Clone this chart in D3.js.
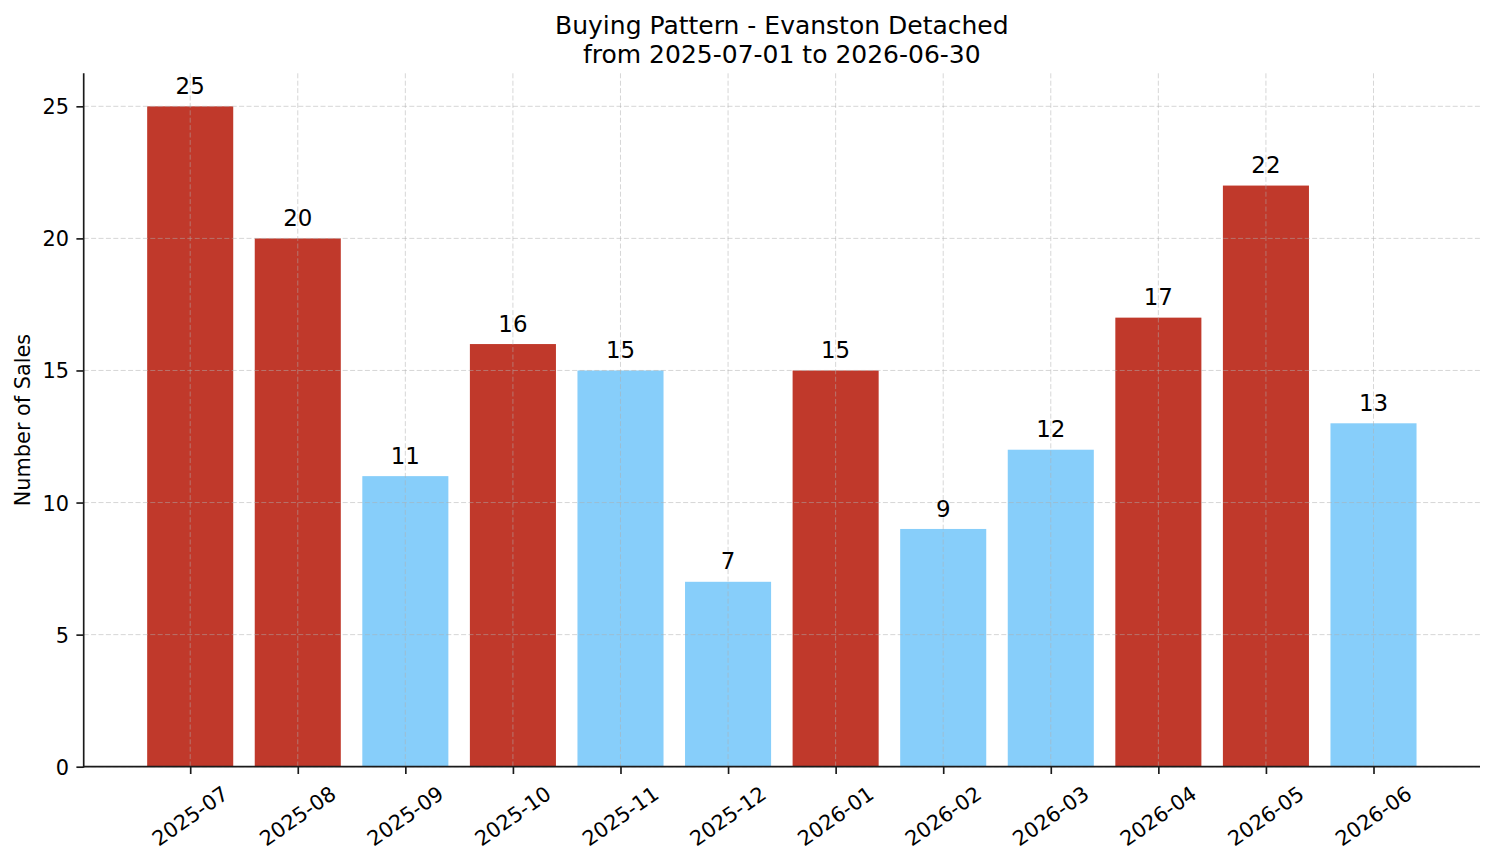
<!DOCTYPE html>
<html>
<head>
<meta charset="utf-8">
<script src="https://cdn.jsdelivr.net/npm/d3@7"></script>
<style>
  html, body { margin: 0; padding: 0; background: #fff; }
  svg { display: block; font-family: "DejaVu Sans", sans-serif; }
</style>
</head>
<body>
<svg id="chart" width="1494" height="863"></svg>
<script>
// ---- data ----
const months = ["2025-07","2025-08","2025-09","2025-10","2025-11","2025-12",
                "2026-01","2026-02","2026-03","2026-04","2026-05","2026-06"];
const sales = [25, 20, 11, 16, 15, 7, 15, 9, 12, 17, 22, 13];
const highlight = [true, true, false, true, false, false, true, false, false, true, true, false];
const yTicks = [0, 5, 10, 15, 20, 25];
const titleLines = ["Buying Pattern - Evanston Detached", "from 2025-07-01 to 2026-06-30"];
const yLabel = "Number of Sales";

// ---- layout ----
const W = 1494, H = 863;
const plot = { left: 83.7, right: 1480, top: 73.3, bottom: 766.7 };
const colHigh = "#c0392b", colLow = "#87cefa";
const axisColor = "#1a1a1a";
const pt = 150 / 72;

const svg = d3.select("#chart");

const x = d3.scaleLinear().domain([-0.99, months.length - 1 + 0.99]).range([plot.left, plot.right]);
const y = d3.scaleLinear().domain([0, 26.25]).range([plot.bottom, plot.top]);
const barW = x(0.8) - x(0);

// bars
svg.append("g").selectAll("rect").data(sales).join("rect")
  .attr("x", (d, i) => x(i) - barW / 2)
  .attr("y", d => y(d))
  .attr("width", barW)
  .attr("height", d => y(0) - y(d))
  .attr("fill", (d, i) => highlight[i] ? colHigh : colLow);

// grid (drawn above bars, like matplotlib default)
const grid = svg.append("g").attr("stroke", "#b0b0b0").attr("stroke-opacity", 0.5)
  .attr("stroke-width", 1).attr("stroke-dasharray", "5,2.4").attr("fill", "none");
grid.selectAll("line.h").data(yTicks).join("line").attr("class", "h")
  .attr("x1", plot.left).attr("x2", plot.right)
  .attr("y1", d => y(d)).attr("y2", d => y(d));
grid.selectAll("line.v").data(months).join("line").attr("class", "v")
  .attr("x1", (d, i) => x(i)).attr("x2", (d, i) => x(i))
  .attr("y1", plot.top).attr("y2", plot.bottom);

// bar value labels
svg.append("g").selectAll("text").data(sales).join("text")
  .attr("x", (d, i) => x(i))
  .attr("y", d => y(d) - 12.4)
  .attr("text-anchor", "middle")
  .attr("font-size", 11 * pt)
  .attr("fill", "#000")
  .text(d => d);

// y axis
const yAxis = d3.axisLeft(y).tickValues(yTicks).tickSize(7.3).tickPadding(7.3).tickFormat(d3.format("d"));
const gy = svg.append("g").attr("transform", `translate(${plot.left},0)`).call(yAxis);
gy.select(".domain").remove();
gy.selectAll(".tick line").attr("stroke", axisColor).attr("stroke-width", 0.8 * pt);
gy.selectAll(".tick text").attr("font-size", 10 * pt).attr("fill", "#000")
  .attr("font-family", "DejaVu Sans").attr("dy", "0.36em");

// x ticks
const xAxis = d3.axisBottom(x).tickValues(d3.range(months.length)).tickSize(7.3).tickFormat(() => "");
const gx = svg.append("g").attr("transform", `translate(0,${plot.bottom})`).call(xAxis);
gx.select(".domain").remove();
gx.selectAll(".tick line").attr("stroke", axisColor).attr("stroke-width", 0.8 * pt);

// rotated x labels (matplotlib rotation=35, ha=center)
const fsX = 10 * pt;
const ang = 35 * Math.PI / 180;
const xl = svg.append("g").attr("font-size", fsX).attr("fill", "#000");
months.forEach((m, i) => {
  const t = xl.append("text").attr("text-anchor", "middle").attr("dy", "0.346em").text(m);
  const w = t.node().getComputedTextLength();
  const h = 1.164 * fsX;
  const bh = w * Math.sin(ang) + h * Math.cos(ang);
  const cy = plot.bottom + 7.3 + 3.5 * pt + bh / 2;
  t.attr("transform", `translate(${x(i)},${cy}) rotate(-35)`);
});

// spines
svg.append("line").attr("x1", plot.left).attr("x2", plot.left).attr("y1", plot.top).attr("y2", plot.bottom + 0.8)
  .attr("stroke", axisColor).attr("stroke-width", 0.8 * pt);
svg.append("line").attr("x1", plot.left - 0.8).attr("x2", plot.right).attr("y1", plot.bottom).attr("y2", plot.bottom)
  .attr("stroke", axisColor).attr("stroke-width", 0.8 * pt);

// y label
svg.append("text")
  .attr("transform", `translate(30,${(plot.top + plot.bottom) / 2}) rotate(-90)`)
  .attr("text-anchor", "middle").attr("font-size", 10 * pt).attr("fill", "#000")
  .text(yLabel);

// title
const cx = (plot.left + plot.right) / 2;
svg.append("text").attr("x", cx).attr("y", 34).attr("text-anchor", "middle")
  .attr("font-size", 12 * pt).attr("fill", "#000").text(titleLines[0]);
svg.append("text").attr("x", cx).attr("y", 62.5).attr("text-anchor", "middle")
  .attr("font-size", 12 * pt).attr("fill", "#000").text(titleLines[1]);
</script>
</body>
</html>
